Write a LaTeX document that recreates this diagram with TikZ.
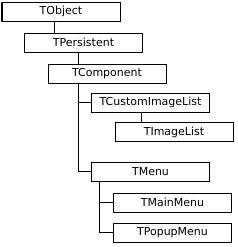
\documentclass[tikz,border=0pt]{standalone}
\usepackage{fontspec}
\setmainfont{DejaVu Sans}
\begin{document}
\begin{tikzpicture}[x=1pt,y=-1pt,
  cls/.style={draw, line width=1pt, minimum width=118pt, minimum height=19pt, inner sep=0pt, font=\fontsize{11}{13}\selectfont},
  conn/.style={line width=1pt}]
\useasboundingbox (0,0) rectangle (238,247);
\node[cls] (tobject) at (61,11.5) {TObject};
\node[cls] (tpers) at (83.5,42.5) {TPersistent};
\node[cls] (tcomp) at (107,73.5) {TComponent};
\node[cls] (tcil) at (150.5,102.5) {TCustomImageList};
\node[cls] (timg) at (174,132) {TImageList};
\node[cls] (tmenu) at (150.5,171.5) {TMenu};
\node[cls] (tmain) at (172.5,202.5) {TMainMenu};
\node[cls] (tpopup) at (172.5,232.5) {TPopupMenu};
\draw[conn] ([xshift=-7pt]tobject.south) -- ([xshift=-7pt]tobject.south |- tpers.north);
\draw[conn] ([xshift=-5pt]tpers.south) -- ([xshift=-5pt]tpers.south |- tcomp.north);
\draw[conn] ([xshift=-28.5pt]tcomp.south) |- (tmenu.west);
\draw[conn] ([xshift=-28.5pt]tcomp.south) |- (tcil.west);
\draw[conn] ([xshift=-9.5pt]tcil.south) -- ([xshift=-9.5pt]tcil.south |- timg.north);
\draw[conn] ([xshift=-51.5pt]tmenu.south) |- (tpopup.west);
\draw[conn] ([xshift=-51.5pt]tmenu.south) |- (tmain.west);
\end{tikzpicture}
\end{document}
